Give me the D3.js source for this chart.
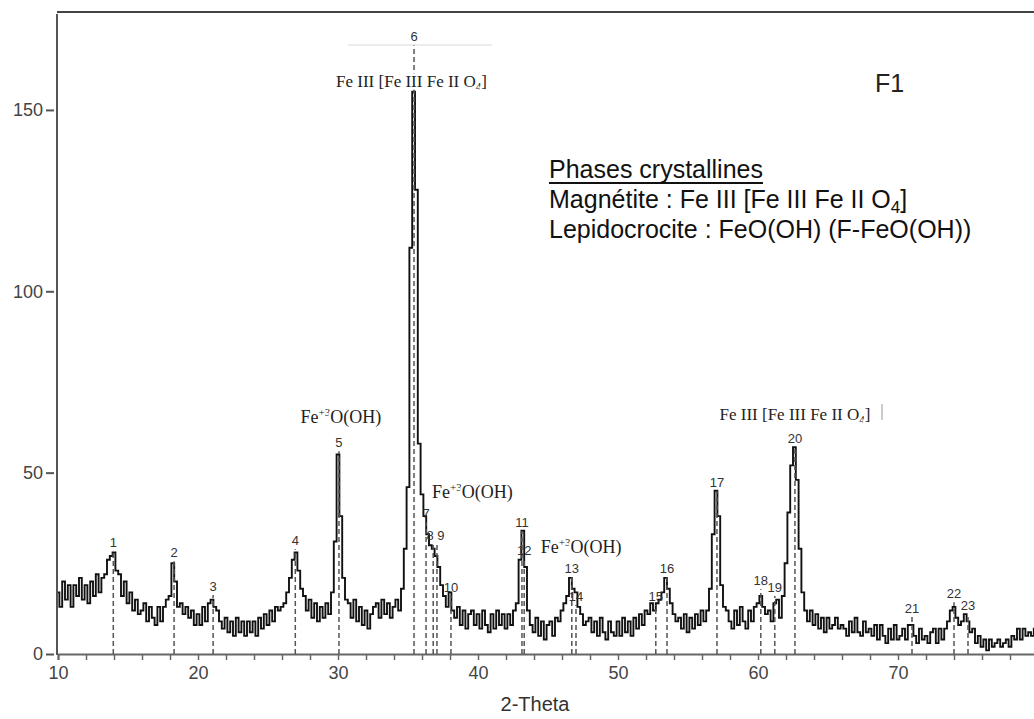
<!DOCTYPE html>
<html>
<head>
<meta charset="utf-8">
<script src="https://cdn.jsdelivr.net/npm/d3@7"></script>
<style>
  body { margin: 0; background: #fff; }
  svg { display: block; }
</style>
</head>
<body>
<div id="chart"></div>
<script>
// XRD scan, every 0.2 degree from 10 to 80 (2-Theta)
const thetaStart = 10;
const thetaStep = 0.2;
const intensity = [
  17, 13, 20, 15, 19, 13, 19, 16, 21, 15,   // 10
  19, 14, 20, 16, 22, 17, 21, 22, 26, 27,   // 12
  28, 23, 22, 16, 20, 14, 17, 12, 15, 11,   // 14
  12, 14, 9, 13, 10, 8, 13, 9, 13, 15,      // 16
  16, 25, 20, 13, 14, 11, 13, 10, 12, 8,    // 18
  11, 8, 13, 9, 14, 15, 13, 12, 9, 7,       // 20
  10, 6, 9, 5, 10, 6, 9, 5, 9, 6,           // 22
  9, 5, 10, 7, 11, 8, 12, 9, 13, 12,        // 24
  13, 14, 17, 21, 26, 28, 23, 18, 16, 12,   // 26
  15, 10, 14, 9, 13, 10, 14, 11, 17, 31,    // 28
  55, 38, 21, 15, 14, 10, 15, 9, 13, 8,     // 30
  12, 7, 11, 13, 14, 10, 15, 11, 14, 10,    // 32
  13, 15, 12, 18, 29, 46, 112, 155, 128, 58, // 34
  44, 38, 33, 30, 29, 27, 24, 19, 16, 13,   // 36
  17, 12, 10, 13, 8, 12, 7, 11, 12, 8,      // 38
  11, 7, 12, 8, 6, 11, 7, 12, 8, 11,        // 40
  7, 11, 8, 12, 14, 26, 34, 24, 12, 8,      // 42
  6, 10, 5, 9, 4, 8, 9, 5, 10, 9,           // 44
  12, 14, 16, 21, 18, 17, 13, 11, 8, 9,     // 46
  10, 6, 9, 5, 10, 6, 4, 9, 6, 5,           // 48
  9, 5, 10, 6, 9, 5, 10, 7, 11, 8,          // 50
  12, 11, 14, 12, 14, 15, 17, 21, 18, 14,   // 52
  11, 9, 10, 7, 11, 6, 10, 7, 11, 8,        // 54
  12, 9, 12, 18, 33, 45, 38, 19, 13, 12,    // 56
  9, 7, 12, 8, 13, 9, 7, 12, 9, 13,         // 58
  14, 16, 13, 11, 12, 9, 14, 15, 10, 16,    // 60
  25, 39, 52, 57, 48, 29, 17, 12, 9, 12,    // 62
  8, 11, 7, 10, 6, 10, 7, 8, 10, 7,         // 64
  8, 7, 5, 9, 6, 10, 6, 5, 9, 6,            // 66
  7, 5, 8, 4, 8, 5, 3, 7, 4, 8,             // 68
  4, 5, 7, 4, 8, 8, 5, 3, 7, 4,             // 70
  5, 3, 6, 7, 3, 7, 4, 7, 9, 12,            // 72
  13, 10, 8, 9, 11, 9, 6, 7, 3, 5,          // 74
  2, 4, 1, 4, 2, 3, 4, 2, 3, 4,             // 76
  2, 5, 4, 7, 4, 7, 5, 6, 5, 7,             // 78
  6                                         // 80
];

// numbered peaks: position and height of the top of each peak label
const peakIds = ["1","2","3","4","5","6","7","8","9","10","11","12","13","14","15","16","17","18","19","20","21","22","23"];
const peakTheta = [13.95, 18.29, 21.08, 26.95, 30.07, 35.43, 36.29, 36.8, 37.07, 38.07, 43.14, 43.3,
                   46.7, 47.0, 52.7, 53.5, 57.07, 60.2, 61.2, 62.64, 71.0, 74.0, 75.0];
const peakTop = [28, 25.3, 16, 28.6, 55.6, 167.5, 36, 30, 30, 15.7, 33.6, 25.9,
                 20.9, 13.2, 13.2, 20.9, 44.6, 17.6, 15.7, 56.9, 9.9, 14, 10.7];

// phase annotations (theta of centre, intensity of baseline)
const phaseText = ["magnetite", "lepido", "lepido", "lepido", "magnetite"];
const phaseTheta = [35.25, 30.2, 39.6, 47.36, 62.64];
const phaseLevel = [156.2, 63.6, 43, 27.8, 64.5];

const xTicks = [10, 20, 30, 40, 50, 60, 70];
const yTicks = [0, 50, 100, 150];

const width = 1034, height = 719;
const svg = d3.select("#chart").append("svg")
  .attr("width", width)
  .attr("height", height);

const x = d3.scaleLinear().domain([10, 80]).range([58, 1038]);
const y = d3.scaleLinear().domain([0, 177]).range([654, 12]);

const sans = "'Liberation Sans', Arial, sans-serif";
const serif = "'Liberation Serif', 'Times New Roman', serif";

// faint scan line artefact near the top
svg.append("line")
  .attr("x1", 348).attr("x2", 492).attr("y1", 45).attr("y2", 45)
  .attr("stroke", "#ececec").attr("stroke-width", 2);

// frame: top line
svg.append("line")
  .attr("x1", 57).attr("x2", width).attr("y1", 12).attr("y2", 12)
  .attr("stroke", "#444").attr("stroke-width", 2);

// x axis, ticks every 2 degrees
const xAxis = d3.axisBottom(x)
  .tickValues(d3.range(10, 80, 2))
  .tickSize(6)
  .tickFormat(d => xTicks.includes(d) ? d : "");
const gx = svg.append("g")
  .attr("transform", `translate(0,${y(0)})`)
  .call(xAxis);
gx.select(".domain").attr("stroke", "#666").attr("stroke-width", 2);
gx.selectAll(".tick line").attr("stroke", "#666").attr("stroke-width", 1.5);
gx.selectAll(".tick text")
  .attr("y", 12)
  .attr("fill", "#444")
  .style("font-family", sans)
  .style("font-size", "18px");

const yAxis = d3.axisLeft(y)
  .tickValues(yTicks)
  .tickSize(0)
  .tickPadding(0);
const gy = svg.append("g")
  .attr("transform", "translate(57,0)")
  .call(yAxis);
gy.select(".domain").remove();
gy.selectAll(".tick text")
  .attr("x", -14)
  .attr("fill", "#444")
  .style("font-family", sans)
  .style("font-size", "18px");
gy.selectAll(".tick").append("line")
  .attr("x1", -11).attr("x2", -3)
  .attr("stroke", "#555").attr("stroke-width", 2);
svg.append("line")
  .attr("x1", 57).attr("x2", 57).attr("y1", 14).attr("y2", y(0) + 1)
  .attr("stroke", "#555").attr("stroke-width", 2);

// axis title
svg.append("text")
  .attr("x", 535).attr("y", 711)
  .attr("text-anchor", "middle")
  .attr("fill", "#333")
  .style("font-family", sans)
  .style("font-size", "20px")
  .text("2-Theta");

// diffraction curve
const scan = intensity.map((v, i) => [thetaStart + i * thetaStep, v]);
const line = d3.line()
  .x(d => x(d[0]))
  .y(d => y(d[1]))
  .curve(d3.curveStep);
svg.append("path")
  .datum(scan)
  .attr("fill", "none")
  .attr("stroke", "#111")
  .attr("stroke-width", 1.9)
  .attr("stroke-linejoin", "miter")
  .attr("d", line);

// dashed peak markers
const peaks = peakIds.map((id, i) => ({ id: id, theta: peakTheta[i], top: peakTop[i] }));
svg.selectAll(".marker")
  .data(peaks)
  .enter()
  .append("line")
  .attr("class", "marker")
  .attr("x1", d => x(d.theta)).attr("x2", d => x(d.theta))
  .attr("y1", y(0)).attr("y2", d => y(d.top) - 1)
  .attr("stroke", "#555")
  .attr("stroke-width", 1.5)
  .attr("stroke-dasharray", "5,3");

// 8 and 9 sit on top of each other in the original; spread them a touch
const labelNudge = { "8": -3, "9": 4 };
svg.selectAll(".peak-label")
  .data(peaks)
  .enter()
  .append("text")
  .attr("class", "peak-label")
  .attr("x", d => x(d.theta) + (labelNudge[d.id] || 0))
  .attr("y", d => y(d.top) - 5)
  .attr("text-anchor", "middle")
  .attr("fill", "#333")
  .style("font-family", sans)
  .style("font-size", "13px")
  .text(d => d.id);

// phase labels on the peaks
phaseText.forEach((kind, i) => {
  const t = svg.append("text")
    .attr("x", x(phaseTheta[i]))
    .attr("y", y(phaseLevel[i]))
    .attr("text-anchor", "middle")
    .attr("fill", "#222")
    .attr("stroke", "#fff")
    .attr("stroke-width", 5)
    .attr("paint-order", "stroke")
    .style("font-family", serif);
  if (kind === "magnetite") {
    t.style("font-size", "17px");
    t.append("tspan").text("Fe III [Fe III Fe II O");
    t.append("tspan").attr("dy", 3).style("font-size", "11px").text("4");
    t.append("tspan").attr("dy", -3).text("]");
  } else {
    t.style("font-size", "18px");
    t.append("tspan").text("Fe");
    t.append("tspan").attr("dy", -7).style("font-size", "11px").text("+3");
    t.append("tspan").attr("dy", 7).text("O(OH)");
  }
});
// small bar after the second magnetite label
svg.append("line")
  .attr("x1", 882).attr("x2", 882).attr("y1", 404).attr("y2", 420)
  .attr("stroke", "#bbb").attr("stroke-width", 1.5);

// sample name
svg.append("text")
  .attr("x", 875).attr("y", 92)
  .attr("fill", "#222")
  .style("font-family", sans)
  .style("font-size", "25px")
  .text("F1");

// crystalline phases box
const legendX = 549;
const title = svg.append("text")
  .attr("x", legendX).attr("y", 178)
  .attr("fill", "#111")
  .style("font-family", sans)
  .style("font-size", "25px")
  .text("Phases crystallines");
const titleLen = title.node().getComputedTextLength();
svg.append("line")
  .attr("x1", legendX).attr("x2", legendX + titleLen)
  .attr("y1", 183).attr("y2", 183)
  .attr("stroke", "#111").attr("stroke-width", 2);

const mag = svg.append("text")
  .attr("x", legendX).attr("y", 208)
  .attr("fill", "#111")
  .style("font-family", sans)
  .style("font-size", "25px");
mag.append("tspan").text("Magnétite : Fe III [Fe III Fe II O");
mag.append("tspan").attr("dy", 5).style("font-size", "17px").text("4");
mag.append("tspan").attr("dy", -5).text("]");

svg.append("text")
  .attr("x", legendX).attr("y", 238)
  .attr("fill", "#111")
  .style("font-family", sans)
  .style("font-size", "25px")
  .text("Lepidocrocite : FeO(OH) (F-FeO(OH))");
</script>
</body>
</html>
